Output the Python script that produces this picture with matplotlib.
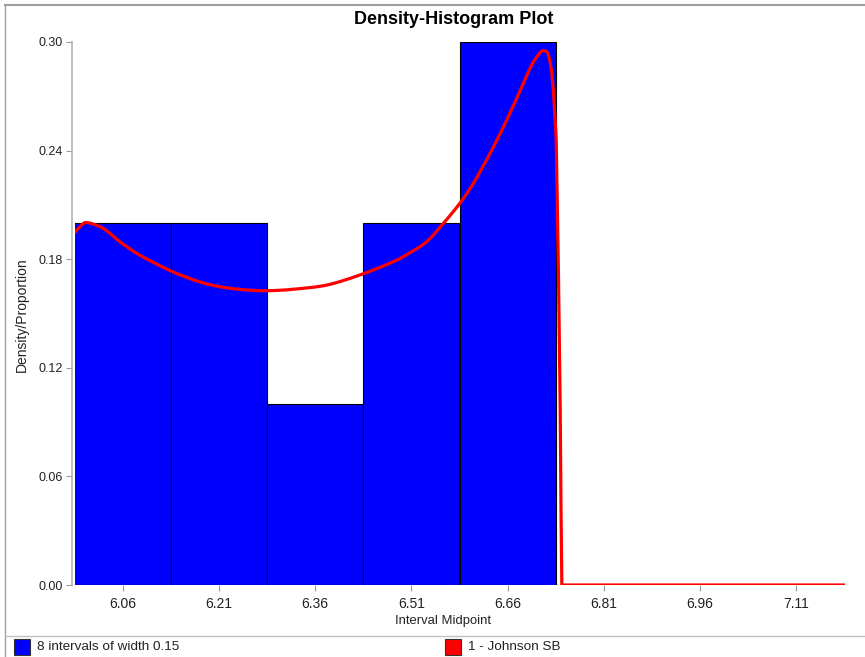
import numpy as np
import matplotlib
matplotlib.use("Agg")
import matplotlib.pyplot as plt
from matplotlib.patches import Rectangle, PathPatch
from matplotlib.lines import Line2D
from matplotlib.path import Path

# --- histogram data ---
BIN_WIDTH = 0.15
midpoints = [6.06, 6.21, 6.36, 6.51, 6.66, 6.81, 6.96, 7.11]
density = [0.20, 0.20, 0.10, 0.20, 0.30, 0.0, 0.0, 0.0]
y_ticks = [0.00, 0.06, 0.12, 0.18, 0.24, 0.30]

# fitted Johnson SB density, sampled along the curve
fit_x = [5.985, 5.995, 6.0047, 6.0294, 6.0556, 6.0817, 6.1076, 6.1352, 6.1596,
         6.1855, 6.2116, 6.2376, 6.2635, 6.2884, 6.3259, 6.3779, 6.4299,
         6.4818, 6.5078, 6.5339, 6.5598, 6.5847, 6.6066, 6.6326, 6.6586,
         6.6845, 6.6976, 6.7105, 6.7173, 6.7235, 6.7288, 6.7328, 6.7357,
         6.7366, 6.7392, 6.7419, 6.7434, 6.7445, 7.185]
fit_y = [0.1945, 0.1985, 0.2002, 0.1971, 0.1897, 0.1833, 0.1783, 0.1735, 0.1700,
         0.1669, 0.1648, 0.1635, 0.1628, 0.1626, 0.1634, 0.1657, 0.1713,
         0.1786, 0.1836, 0.1897, 0.1998, 0.2105, 0.2219, 0.2385, 0.2569,
         0.2772, 0.2873, 0.2941, 0.2952, 0.2928, 0.2827, 0.2643, 0.2459,
         0.2275, 0.1722, 0.0985, 0.0343, 0.0, 0.0]
SMOOTH_UNTIL = 33  # rounded part of the curve; the steep tail stays straight


def smooth_path(xs, ys, n_smooth):
    """Catmull-Rom style Bezier through the first n_smooth points, lines after."""
    pts = np.column_stack([xs, ys])
    verts = [pts[0]]
    codes = [Path.MOVETO]
    for i in range(n_smooth - 1):
        p0 = pts[max(i - 1, 0)]
        p1, p2 = pts[i], pts[i + 1]
        p3 = pts[min(i + 2, n_smooth - 1)]
        c1 = p1 + (p2 - p0) / 6.0
        c2 = p2 - (p3 - p1) / 6.0
        verts += [c1, c2, p2]
        codes += [Path.CURVE4] * 3
    for p in pts[n_smooth:]:
        verts.append(p)
        codes.append(Path.LINETO)
    return Path(verts, codes)


W, H = 865, 657
plt.rcParams["font.family"] = ["Liberation Sans", "DejaVu Sans"]
fig = plt.figure(figsize=(W / 100, H / 100), dpi=100)
fig.patch.set_facecolor("white")

ax = fig.add_axes([74.5 / W, (H - 585) / H, (844.5 - 74.5) / W, (585 - 42) / H])

ax.bar(midpoints, density, width=BIN_WIDTH, color="#0000FF",
       edgecolor="black", linewidth=0.8, zorder=2)
curve = PathPatch(smooth_path(fit_x, fit_y, SMOOTH_UNTIL), facecolor="none",
                  edgecolor="#FF0000", linewidth=2.3, zorder=3,
                  joinstyle="round", capstyle="round")
ax.add_patch(curve)

ax.set_xlim(midpoints[0] - BIN_WIDTH / 2, midpoints[-1] + BIN_WIDTH / 2)
ax.set_ylim(0, 0.30)
ax.set_xticks(midpoints)
ax.set_xticklabels([f"{m:.2f}" for m in midpoints])
ax.set_yticks(y_ticks)
ax.set_yticklabels([f"{t:.2f}" for t in y_ticks])

for side in ["top", "right", "bottom"]:
    ax.spines[side].set_visible(False)
ax.spines["left"].set_color("#b4b4b4")
ax.spines["left"].set_linewidth(1.2)
ax.spines["left"].set_position(("outward", 1.5))
ax.tick_params(axis="both", colors="#9a9a9a", length=4, width=0.8,
               labelcolor="#222222", pad=3)
ax.tick_params(axis="y", labelsize=9)
ax.tick_params(axis="x", labelsize=10, pad=5)

# title and axis titles
fig.text(454 / W, 1 - 20 / H, "Density-Histogram Plot", fontsize=13,
         fontweight="bold", ha="center", va="center", color="black")
fig.text(443 / W, 1 - 621 / H, "Interval Midpoint", fontsize=9.4,
         ha="center", va="center", color="#222222")
fig.text(22 / W, 1 - 315 / H, "Density/Proportion", fontsize=10,
         rotation=90, ha="center", va="center", color="#222222")

# outer frame and legend separator
frame = "#a0a0a0"
fig.add_artist(Line2D([5 / W, 1], [1 - 5 / H, 1 - 5 / H], color=frame, lw=1.5))
fig.add_artist(Line2D([5 / W, 5 / W], [0, 1 - 5 / H], color=frame, lw=1.0))
fig.add_artist(Line2D([5 / W, 1], [1 - 636 / H, 1 - 636 / H], color="#c0c0c0", lw=1.0))

# legend row
legend_items = [(14, "#0000FF", "8 intervals of width 0.15"),
                (445, "#FF0000", "1 - Johnson SB")]
for x0, col, label in legend_items:
    fig.add_artist(Rectangle((x0 / W, 1 - 655 / H), 16 / W, 16 / H,
                             facecolor=col, edgecolor="#333333", lw=0.8,
                             transform=fig.transFigure))
    fig.text((x0 + 23) / W, 1 - 647 / H, label, fontsize=9.7,
             color="#222222", va="center", ha="left")

fig.savefig("out.png", dpi=100, facecolor="white")
